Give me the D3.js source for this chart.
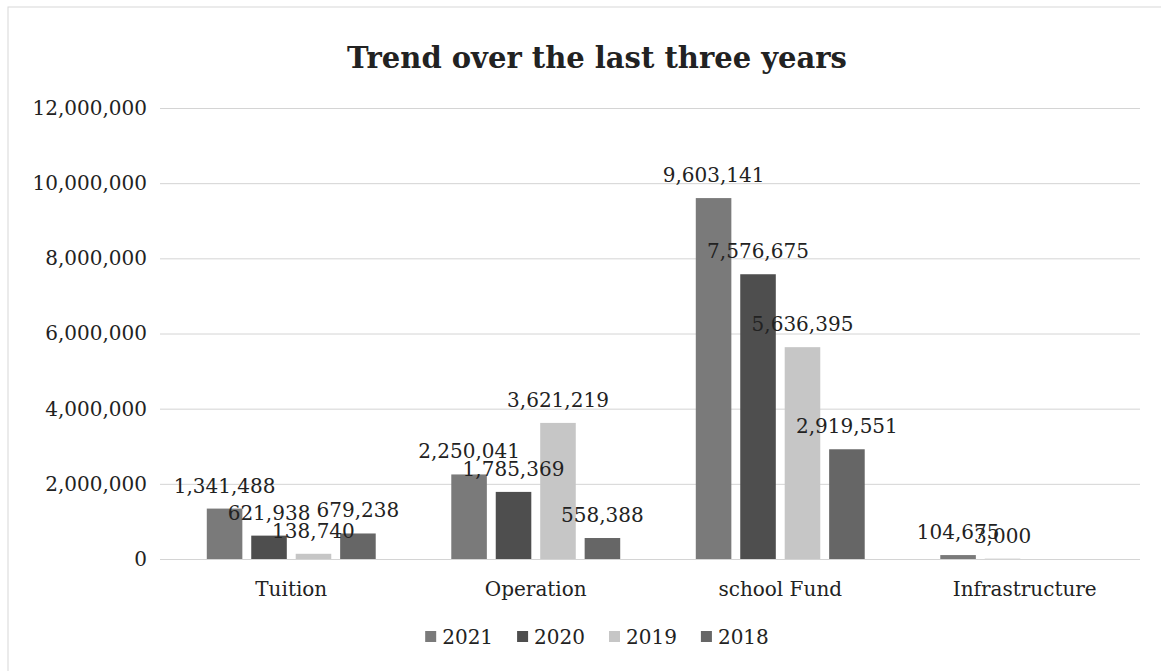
<!DOCTYPE html>
<html>
<head>
<meta charset="utf-8">
<script src="https://cdn.jsdelivr.net/npm/d3@7"></script>
<style>
  html, body { margin: 0; padding: 0; background: #ffffff; }
  svg { display: block; }
  text { font-family: "DejaVu Serif", serif; }
</style>
</head>
<body>
<svg id="chart" width="1161" height="671"></svg>
<script>
const categories = ["Tuition", "Operation", "school Fund", "Infrastructure"];
const seriesNames = ["2021", "2020", "2019", "2018"];
const values2021 = [1341488, 2250041, 9603141, 104675];
const values2020 = [621938, 1785369, 7576675, 3000];
const values2019 = [138740, 3621219, 5636395, null];
const values2018 = [679238, 558388, 2919551, null];
const yTicks = [0, 2000000, 4000000, 6000000, 8000000, 10000000, 12000000];
const colors = ["#7a7a7a", "#4e4e4e", "#c6c6c6", "#666666"];
const titleText = "Trend over the last three years";

const seriesValues = [values2021, values2020, values2019, values2018];

const svg = d3.select("#chart");

// faint outer border
svg.append("rect").attr("x", 8).attr("y", 7).attr("width", 1160).attr("height", 680)
  .attr("fill", "none").attr("stroke", "#d8d8d8").attr("stroke-width", 1);

const plotLeft = 160, plotRight = 1140, plotTop = 108, plotBottom = 559;

const y = d3.scaleLinear().domain([0, 12000000]).range([plotBottom, plotTop]);
const x0 = d3.scaleBand().domain(categories).range([169, 1147]).padding(0);
const x1 = d3.scaleBand().domain(seriesNames).range([0, x0.bandwidth()])
  .paddingInner(0.2).paddingOuter(0.85);
const color = d3.scaleOrdinal().domain(seriesNames).range(colors);

// Y axis with gridlines
const yAxis = svg.append("g").attr("transform", `translate(${plotLeft},0)`)
  .call(d3.axisLeft(y).tickValues(yTicks).tickFormat(d3.format(","))
    .tickSize(-(plotRight - plotLeft)).tickPadding(13));
yAxis.select(".domain").remove();
yAxis.selectAll(".tick line").attr("stroke", "#d4d4d4").attr("stroke-width", 1);
yAxis.selectAll(".tick text").attr("font-size", 20).attr("fill", "#222")
  .style("font-family", "DejaVu Serif, serif");

// X axis labels
const xAxis = svg.append("g").attr("transform", `translate(0,${plotBottom})`)
  .call(d3.axisBottom(x0).tickSize(0).tickPadding(23));
xAxis.select(".domain").remove();
xAxis.selectAll(".tick text").attr("font-size", 20).attr("fill", "#222")
  .style("font-family", "DejaVu Serif, serif");

// Bars
const data = [];
categories.forEach((c, ci) => {
  seriesNames.forEach((s, si) => {
    const v = seriesValues[si][ci];
    if (v !== null && v !== undefined) data.push({ cat: c, series: s, value: v });
  });
});

svg.append("g").selectAll("rect").data(data).join("rect")
  .attr("x", d => x0(d.cat) + x1(d.series))
  .attr("y", d => y(d.value))
  .attr("width", x1.bandwidth())
  .attr("height", d => y(0) - y(d.value))
  .attr("fill", d => color(d.series));

// Value labels
svg.append("g").selectAll("text").data(data).join("text")
  .attr("x", d => x0(d.cat) + x1(d.series) + x1.bandwidth() / 2)
  .attr("y", d => y(d.value) - 16)
  .attr("text-anchor", "middle")
  .attr("font-size", 20)
  .attr("fill", "#222")
  .text(d => d3.format(",")(d.value));

// Title
svg.append("text").attr("x", 597).attr("y", 68).attr("text-anchor", "middle")
  .attr("font-size", 29).attr("font-weight", "bold").attr("fill", "#222")
  .text(titleText);

// Legend
const legend = svg.append("g");
const items = legend.selectAll("g").data(seriesNames).join("g");
items.append("rect").attr("width", 11).attr("height", 11).attr("y", -6)
  .attr("fill", d => color(d));
items.append("text").attr("x", 17).attr("y", 7).attr("font-size", 20).attr("fill", "#222")
  .text(d => d);
let xpos = 0;
items.each(function () {
  const w = 17 + d3.select(this).select("text").node().getComputedTextLength();
  d3.select(this).attr("transform", `translate(${xpos},0)`);
  xpos += w + 24;
});
const totalW = xpos - 24;
legend.attr("transform", `translate(${597 - totalW / 2},637)`);
</script>
</body>
</html>
